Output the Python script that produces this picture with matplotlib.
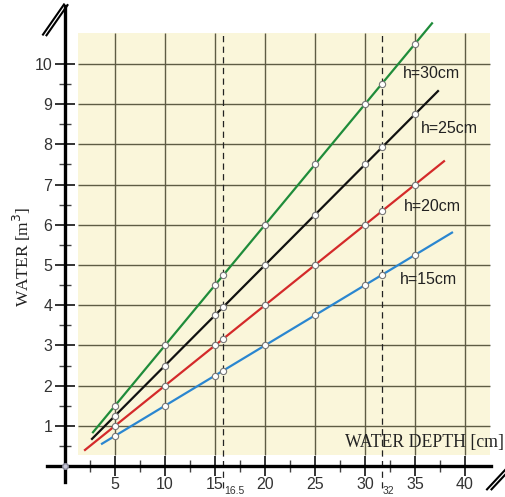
#!/usr/bin/env python3
"""
Water volume vs water depth for different heights h
"""

import matplotlib
matplotlib.use('Agg')
import matplotlib.pyplot as plt

# water depth readings [cm] where the points are marked
depth_points = [5, 10, 15, 15.8, 20, 25, 30, 31.7, 35]

# series: label, slope [m3 per cm], line start/end depth, colour
heights = ['h=15cm', 'h=20cm', 'h=25cm', 'h=30cm']
slopes = [0.15, 0.20, 0.25, 0.30]
line_start = [3.7, 2.0, 2.7, 2.8]
line_end = [38.7, 37.9, 37.3, 36.7]
colors = ['#2a86d0', '#d42a2a', '#111111', '#1f8c3a']

# label anchor positions (depth, water)
label_x = [33.5, 33.9, 35.6, 33.8]
label_y = [4.65, 6.45, 8.4, 9.75]

x_ticks = [5, 10, 15, 20, 25, 30, 35, 40]
y_ticks = [1, 2, 3, 4, 5, 6, 7, 8, 9, 10]

dashed_x = [15.8, 31.7]
dashed_labels = ['16.5', '32']

GRID = '#5e5c44'
BG = '#faf6da'


def main():
    fig = plt.figure(figsize=(5.05, 4.97), dpi=100)
    ax = fig.add_axes([0, 0, 1, 1])
    ax.set_xlim(-6.5, 44.0)
    ax.set_ylim(-0.77, 11.59)
    ax.patch.set_visible(False)

    # background panel
    ax.add_patch(plt.Rectangle((1.3, 0.27), 41.2, 10.5, facecolor=BG,
                               edgecolor='none', zorder=0))

    # grid
    ax.vlines(x_ticks, 0.27, 10.77, color=GRID, linewidth=1.0, zorder=1)
    ax.hlines(y_ticks, 1.3, 42.5, color=GRID, linewidth=1.0, zorder=1)

    # reference dashed lines
    ax.vlines(dashed_x, -0.55, 10.77, color='#222222', linewidth=0.9,
              linestyles=(0, (5, 3.5)), zorder=2)
    for xd, txt in zip(dashed_x, dashed_labels):
        ax.text(xd + 0.1, -0.755, txt, fontsize=7.5, color='#333333',
                ha='left', va='bottom', family='Liberation Sans')

    # lines with point markers
    for lab, k, x0, x1, c, lx, ly in zip(heights, slopes, line_start, line_end,
                                         colors, label_x, label_y):
        ax.plot([x0, x1], [k * x0, k * x1], color=c, linewidth=1.6, zorder=3)
        ax.plot(depth_points, [k * d for d in depth_points], linestyle='none',
                marker='o', markersize=4.5, markerfacecolor='white',
                markeredgecolor='#777777', markeredgewidth=0.8, zorder=4)
        ax.text(lx, ly, lab, fontsize=11.5, family='Liberation Sans',
                color='#222222', ha='left', va='center', zorder=5)

    # axes through origin
    for s in ['top', 'right']:
        ax.spines[s].set_visible(False)
    ax.spines['left'].set_position(('data', 0))
    ax.spines['bottom'].set_position(('data', 0))
    ax.spines['left'].set_bounds(-0.4, 11.45)
    ax.spines['bottom'].set_bounds(-1.8, 42.6)
    for s in ['left', 'bottom']:
        ax.spines[s].set_linewidth(2.4)
        ax.spines[s].set_zorder(6)

    ax.set_xticks(x_ticks)
    ax.set_yticks(y_ticks)
    ax.set_xticks([2.5 + 5 * i for i in range(8)], minor=True)
    ax.set_yticks([0.5 + i for i in range(10)], minor=True)
    ax.tick_params(which='major', direction='inout', length=14, width=1.3,
                   color='#222222', labelsize=11.5, labelcolor='#333333')
    ax.tick_params(which='minor', direction='inout', length=8, width=1.0,
                   color='#444444')
    ax.tick_params(axis='y', which='major', pad=2)
    ax.tick_params(axis='x', which='major', pad=1)
    for lbl in ax.get_xticklabels() + ax.get_yticklabels():
        lbl.set_family('Liberation Sans')

    # origin dot
    ax.plot([0], [0], marker='o', markersize=4, markerfacecolor='#c8c8d8',
            markeredgecolor='#888899', zorder=7, clip_on=False)

    # axis break marks
    for off in [0, 0.35]:
        ax.plot([-2.2 + off, -0.1 + off], [10.73 - off * 0.05, 11.48 - off * 0.05],
                color='black', linewidth=1.5, clip_on=False, zorder=7)
    for off in [0, 0.45]:
        ax.plot([42.2 + off, 44.0 + off], [-0.58, -0.1], color='black',
                linewidth=1.5, clip_on=False, zorder=7)

    # axis titles
    ax.text(-4.3, 5.2, 'WATER [m$^3$]', rotation=90, fontsize=12.5,
            family='Liberation Serif', ha='center', va='center', color='#222222')
    ax.text(43.9, 0.58, 'WATER DEPTH [cm]', fontsize=12.8,
            family='Liberation Serif', ha='right', va='center', color='#222222')

    plt.savefig('out.png', dpi=100)


if __name__ == '__main__':
    main()
